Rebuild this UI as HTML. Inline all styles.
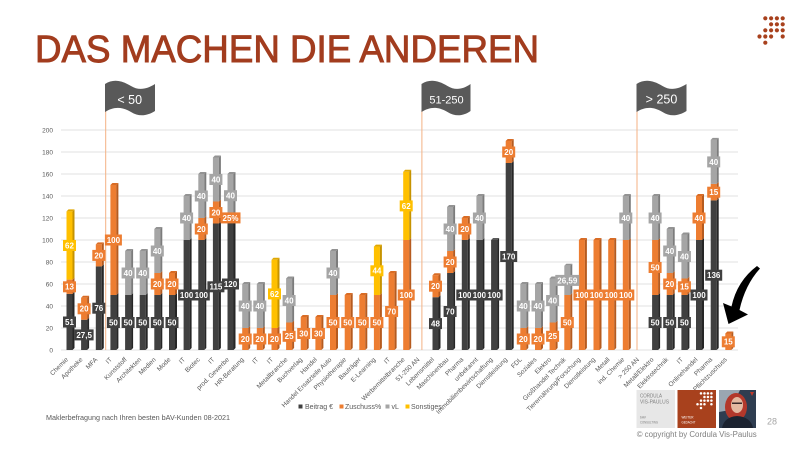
<!DOCTYPE html>
<html><head><meta charset="utf-8">
<style>
html,body{margin:0;padding:0;background:#fff;}
svg{display:block}
svg text{font-family:"Liberation Sans",sans-serif}
.bf{fill:#404040}.bs{fill:#262626}.bt{fill:#5a5a5a}
.zf{fill:#ED7D31}.zs{fill:#B65B1F}.zt{fill:#D96C25}
.vf{fill:#A5A5A5}.vs{fill:#7C7C7C}.vt{fill:#939393}
.sf{fill:#FFC000}.ss{fill:#C69300}.st{fill:#E0A800}
.L text{font-size:8px;font-weight:bold;fill:#fff;text-anchor:middle}
.lb{fill:#404040}.lz{fill:#ED7D31}.lv{fill:#A5A5A5}.ls{fill:#FFC000}
.xl text{font-size:6.5px;fill:#595959;text-anchor:end}
.yl text{font-size:6.5px;fill:#595959;text-anchor:end}
.dot circle{fill:#A8411D}
</style></head>
<body>
<svg width="800" height="450" viewBox="0 0 800 450" xmlns="http://www.w3.org/2000/svg">
<rect width="800" height="450" fill="#fff"/>

<!-- Title -->
<text x="35" y="62" font-size="38" fill="#A23C1E" stroke="#A23C1E" stroke-width="0.9" textLength="504" lengthAdjust="spacingAndGlyphs">DAS MACHEN DIE ANDEREN</text>

<!-- top-right logo -->
<g class="dot" id="logo">
<circle cx="765.3" cy="18.3" r="2.1"/><circle cx="771.1" cy="18.3" r="2.1"/><circle cx="776.9" cy="18.3" r="2.1"/><circle cx="782.7" cy="18.3" r="2.1"/>
<circle cx="771.1" cy="24.3" r="2.1"/><circle cx="776.9" cy="24.3" r="2.1"/><circle cx="782.7" cy="24.3" r="2.1"/>
<circle cx="765.3" cy="30.3" r="2.1"/><circle cx="771.1" cy="30.3" r="2.1"/><circle cx="776.9" cy="30.3" r="2.1"/><circle cx="782.7" cy="30.3" r="2.1"/>
<circle cx="759.5" cy="36.5" r="2.1"/><circle cx="765.3" cy="36.5" r="2.1"/><circle cx="771.1" cy="36.5" r="2.1"/><circle cx="782.7" cy="36.5" r="2.1"/>
<circle cx="765.3" cy="42.7" r="2.1"/>
</g>

<!-- gridlines -->
<g stroke="#D9D9D9" stroke-width="0.8">
<line x1="61" y1="350" x2="738" y2="350"/><line x1="61" y1="328" x2="738" y2="328"/><line x1="61" y1="306" x2="738" y2="306"/><line x1="61" y1="284" x2="738" y2="284"/><line x1="61" y1="262" x2="738" y2="262"/><line x1="61" y1="240" x2="738" y2="240"/><line x1="61" y1="218" x2="738" y2="218"/><line x1="61" y1="196" x2="738" y2="196"/><line x1="61" y1="174" x2="738" y2="174"/><line x1="61" y1="152" x2="738" y2="152"/><line x1="61" y1="130" x2="738" y2="130"/>
</g>
<g class="yl">
<text x="53" y="352.3">0</text><text x="53" y="330.3">20</text><text x="53" y="308.3">40</text><text x="53" y="286.3">60</text><text x="53" y="264.3">80</text><text x="53" y="242.3">100</text><text x="53" y="220.3">120</text><text x="53" y="198.3">140</text><text x="53" y="176.3">160</text><text x="53" y="154.3">180</text><text x="53" y="132.3">200</text>
</g>

<!-- divider lines -->
<g stroke="#F4B183" stroke-width="1">
<line x1="105.7" y1="110" x2="105.7" y2="350"/>
<line x1="421.9" y1="110" x2="421.9" y2="350"/>
<line x1="637" y1="110" x2="637" y2="350"/>
</g>
<!-- flags -->
<g fill="#595959">
<path transform="translate(105,81)" d="M0,3 C8,-2 16,-1 26,5 C34,10 42,8 50,3 L50,30 C42,35 34,36 26,31 C16,25 8,26 0,31 Z"/>
<path transform="translate(421.5,81)" d="M0,3 C8,-2 16,-1 26,5 C34,10 42,8 49,3 L49,30 C42,35 34,36 26,31 C16,25 8,26 0,31 Z"/>
<path transform="translate(636.5,81)" d="M0,3 C8,-2 16,-1 26,5 C34,10 42,8 50,3 L50,30 C42,35 34,36 26,31 C16,25 8,26 0,31 Z"/>
</g>
<g fill="#fff" text-anchor="middle">
<text x="129.7" y="104" font-size="12.5">&lt; 50</text>
<text x="446.5" y="103.3" font-size="11">51-250</text>
<text x="661.5" y="103.5" font-size="12.5">&gt; 250</text>
</g>

<!-- bars -->
<g transform="translate(70,0)">
<rect class="bf" x="-3.5" y="293.9" width="6" height="56.1"/><path class="bs" d="M2.5 350V293.9l2-2v56.1z"/>
<rect class="zf" x="-3.5" y="279.6" width="6" height="14.3"/><path class="zs" d="M2.5 293.9V279.6l2-2v14.3z"/>
<rect class="sf" x="-3.5" y="211.4" width="6" height="68.2"/><path class="ss" d="M2.5 279.6V211.4l2-2v68.2z"/>
<path class="st" d="M-3.5 211.4l2-2h6l-2 2z"/>
</g>
<g transform="translate(84.6,0)">
<rect class="bf" x="-3.5" y="319.75" width="6" height="30.25"/><path class="bs" d="M2.5 350V319.75l2-2v30.25z"/>
<rect class="zf" x="-3.5" y="297.75" width="6" height="22"/><path class="zs" d="M2.5 319.75V297.75l2-2v22z"/>
<path class="zt" d="M-3.5 297.75l2-2h6l-2 2z"/>
</g>
<g transform="translate(99.3,0)">
<rect class="bf" x="-3.5" y="266.4" width="6" height="83.6"/><path class="bs" d="M2.5 350V266.4l2-2v83.6z"/>
<rect class="zf" x="-3.5" y="244.4" width="6" height="22"/><path class="zs" d="M2.5 266.4V244.4l2-2v22z"/>
<path class="zt" d="M-3.5 244.4l2-2h6l-2 2z"/>
</g>
<g transform="translate(113.9,0)">
<rect class="bf" x="-3.5" y="295" width="6" height="55"/><path class="bs" d="M2.5 350V295l2-2v55z"/>
<rect class="zf" x="-3.5" y="185" width="6" height="110"/><path class="zs" d="M2.5 295V185l2-2v110z"/>
<path class="zt" d="M-3.5 185l2-2h6l-2 2z"/>
</g>
<g transform="translate(128.6,0)">
<rect class="bf" x="-3.5" y="295" width="6" height="55"/><path class="bs" d="M2.5 350V295l2-2v55z"/>
<rect class="vf" x="-3.5" y="251" width="6" height="44"/><path class="vs" d="M2.5 295V251l2-2v44z"/>
<path class="vt" d="M-3.5 251l2-2h6l-2 2z"/>
</g>
<g transform="translate(143.2,0)">
<rect class="bf" x="-3.5" y="295" width="6" height="55"/><path class="bs" d="M2.5 350V295l2-2v55z"/>
<rect class="vf" x="-3.5" y="251" width="6" height="44"/><path class="vs" d="M2.5 295V251l2-2v44z"/>
<path class="vt" d="M-3.5 251l2-2h6l-2 2z"/>
</g>
<g transform="translate(157.8,0)">
<rect class="bf" x="-3.5" y="295" width="6" height="55"/><path class="bs" d="M2.5 350V295l2-2v55z"/>
<rect class="zf" x="-3.5" y="273" width="6" height="22"/><path class="zs" d="M2.5 295V273l2-2v22z"/>
<rect class="vf" x="-3.5" y="229" width="6" height="44"/><path class="vs" d="M2.5 273V229l2-2v44z"/>
<path class="vt" d="M-3.5 229l2-2h6l-2 2z"/>
</g>
<g transform="translate(172.5,0)">
<rect class="bf" x="-3.5" y="295" width="6" height="55"/><path class="bs" d="M2.5 350V295l2-2v55z"/>
<rect class="zf" x="-3.5" y="273" width="6" height="22"/><path class="zs" d="M2.5 295V273l2-2v22z"/>
<path class="zt" d="M-3.5 273l2-2h6l-2 2z"/>
</g>
<g transform="translate(187.1,0)">
<rect class="bf" x="-3.5" y="240" width="6" height="110"/><path class="bs" d="M2.5 350V240l2-2v110z"/>
<rect class="vf" x="-3.5" y="196" width="6" height="44"/><path class="vs" d="M2.5 240V196l2-2v44z"/>
<path class="vt" d="M-3.5 196l2-2h6l-2 2z"/>
</g>
<g transform="translate(201.8,0)">
<rect class="bf" x="-3.5" y="240" width="6" height="110"/><path class="bs" d="M2.5 350V240l2-2v110z"/>
<rect class="zf" x="-3.5" y="218" width="6" height="22"/><path class="zs" d="M2.5 240V218l2-2v22z"/>
<rect class="vf" x="-3.5" y="174" width="6" height="44"/><path class="vs" d="M2.5 218V174l2-2v44z"/>
<path class="vt" d="M-3.5 174l2-2h6l-2 2z"/>
</g>
<g transform="translate(216.4,0)">
<rect class="bf" x="-3.5" y="223.5" width="6" height="126.5"/><path class="bs" d="M2.5 350V223.5l2-2v126.5z"/>
<rect class="zf" x="-3.5" y="201.5" width="6" height="22"/><path class="zs" d="M2.5 223.5V201.5l2-2v22z"/>
<rect class="vf" x="-3.5" y="157.5" width="6" height="44"/><path class="vs" d="M2.5 201.5V157.5l2-2v44z"/>
<path class="vt" d="M-3.5 157.5l2-2h6l-2 2z"/>
</g>
<g transform="translate(231,0)">
<rect class="bf" x="-3.5" y="218" width="6" height="132"/><path class="bs" d="M2.5 350V218l2-2v132z"/>
<rect class="vf" x="-3.5" y="174" width="6" height="44"/><path class="vs" d="M2.5 218V174l2-2v44z"/>
<path class="vt" d="M-3.5 174l2-2h6l-2 2z"/>
</g>
<g transform="translate(245.7,0)">
<rect class="zf" x="-3.5" y="328" width="6" height="22"/><path class="zs" d="M2.5 350V328l2-2v22z"/>
<rect class="vf" x="-3.5" y="284" width="6" height="44"/><path class="vs" d="M2.5 328V284l2-2v44z"/>
<path class="vt" d="M-3.5 284l2-2h6l-2 2z"/>
</g>
<g transform="translate(260.3,0)">
<rect class="zf" x="-3.5" y="328" width="6" height="22"/><path class="zs" d="M2.5 350V328l2-2v22z"/>
<rect class="vf" x="-3.5" y="284" width="6" height="44"/><path class="vs" d="M2.5 328V284l2-2v44z"/>
<path class="vt" d="M-3.5 284l2-2h6l-2 2z"/>
</g>
<g transform="translate(275,0)">
<rect class="zf" x="-3.5" y="328" width="6" height="22"/><path class="zs" d="M2.5 350V328l2-2v22z"/>
<rect class="sf" x="-3.5" y="259.8" width="6" height="68.2"/><path class="ss" d="M2.5 328V259.8l2-2v68.2z"/>
<path class="st" d="M-3.5 259.8l2-2h6l-2 2z"/>
</g>
<g transform="translate(289.6,0)">
<rect class="zf" x="-3.5" y="322.5" width="6" height="27.5"/><path class="zs" d="M2.5 350V322.5l2-2v27.5z"/>
<rect class="vf" x="-3.5" y="278.5" width="6" height="44"/><path class="vs" d="M2.5 322.5V278.5l2-2v44z"/>
<path class="vt" d="M-3.5 278.5l2-2h6l-2 2z"/>
</g>
<g transform="translate(304.2,0)">
<rect class="zf" x="-3.5" y="317" width="6" height="33"/><path class="zs" d="M2.5 350V317l2-2v33z"/>
<path class="zt" d="M-3.5 317l2-2h6l-2 2z"/>
</g>
<g transform="translate(318.9,0)">
<rect class="zf" x="-3.5" y="317" width="6" height="33"/><path class="zs" d="M2.5 350V317l2-2v33z"/>
<path class="zt" d="M-3.5 317l2-2h6l-2 2z"/>
</g>
<g transform="translate(333.5,0)">
<rect class="zf" x="-3.5" y="295" width="6" height="55"/><path class="zs" d="M2.5 350V295l2-2v55z"/>
<rect class="vf" x="-3.5" y="251" width="6" height="44"/><path class="vs" d="M2.5 295V251l2-2v44z"/>
<path class="vt" d="M-3.5 251l2-2h6l-2 2z"/>
</g>
<g transform="translate(348.2,0)">
<rect class="zf" x="-3.5" y="295" width="6" height="55"/><path class="zs" d="M2.5 350V295l2-2v55z"/>
<path class="zt" d="M-3.5 295l2-2h6l-2 2z"/>
</g>
<g transform="translate(362.8,0)">
<rect class="zf" x="-3.5" y="295" width="6" height="55"/><path class="zs" d="M2.5 350V295l2-2v55z"/>
<path class="zt" d="M-3.5 295l2-2h6l-2 2z"/>
</g>
<g transform="translate(377.4,0)">
<rect class="zf" x="-3.5" y="295" width="6" height="55"/><path class="zs" d="M2.5 350V295l2-2v55z"/>
<rect class="sf" x="-3.5" y="246.6" width="6" height="48.4"/><path class="ss" d="M2.5 295V246.6l2-2v48.4z"/>
<path class="st" d="M-3.5 246.6l2-2h6l-2 2z"/>
</g>
<g transform="translate(392.1,0)">
<rect class="zf" x="-3.5" y="273" width="6" height="77"/><path class="zs" d="M2.5 350V273l2-2v77z"/>
<path class="zt" d="M-3.5 273l2-2h6l-2 2z"/>
</g>
<g transform="translate(406.7,0)">
<rect class="zf" x="-3.5" y="240" width="6" height="110"/><path class="zs" d="M2.5 350V240l2-2v110z"/>
<rect class="sf" x="-3.5" y="171.8" width="6" height="68.2"/><path class="ss" d="M2.5 240V171.8l2-2v68.2z"/>
<path class="st" d="M-3.5 171.8l2-2h6l-2 2z"/>
</g>
<g transform="translate(436,0)">
<rect class="bf" x="-3.5" y="297.2" width="6" height="52.8"/><path class="bs" d="M2.5 350V297.2l2-2v52.8z"/>
<rect class="zf" x="-3.5" y="275.2" width="6" height="22"/><path class="zs" d="M2.5 297.2V275.2l2-2v22z"/>
<path class="zt" d="M-3.5 275.2l2-2h6l-2 2z"/>
</g>
<g transform="translate(450.6,0)">
<rect class="bf" x="-3.5" y="273" width="6" height="77"/><path class="bs" d="M2.5 350V273l2-2v77z"/>
<rect class="zf" x="-3.5" y="251" width="6" height="22"/><path class="zs" d="M2.5 273V251l2-2v22z"/>
<rect class="vf" x="-3.5" y="207" width="6" height="44"/><path class="vs" d="M2.5 251V207l2-2v44z"/>
<path class="vt" d="M-3.5 207l2-2h6l-2 2z"/>
</g>
<g transform="translate(465.3,0)">
<rect class="bf" x="-3.5" y="240" width="6" height="110"/><path class="bs" d="M2.5 350V240l2-2v110z"/>
<rect class="zf" x="-3.5" y="218" width="6" height="22"/><path class="zs" d="M2.5 240V218l2-2v22z"/>
<path class="zt" d="M-3.5 218l2-2h6l-2 2z"/>
</g>
<g transform="translate(479.9,0)">
<rect class="bf" x="-3.5" y="240" width="6" height="110"/><path class="bs" d="M2.5 350V240l2-2v110z"/>
<rect class="vf" x="-3.5" y="196" width="6" height="44"/><path class="vs" d="M2.5 240V196l2-2v44z"/>
<path class="vt" d="M-3.5 196l2-2h6l-2 2z"/>
</g>
<g transform="translate(494.6,0)">
<rect class="bf" x="-3.5" y="240" width="6" height="110"/><path class="bs" d="M2.5 350V240l2-2v110z"/>
<path class="bt" d="M-3.5 240l2-2h6l-2 2z"/>
</g>
<g transform="translate(509.2,0)">
<rect class="bf" x="-3.5" y="163" width="6" height="187"/><path class="bs" d="M2.5 350V163l2-2v187z"/>
<rect class="zf" x="-3.5" y="141" width="6" height="22"/><path class="zs" d="M2.5 163V141l2-2v22z"/>
<path class="zt" d="M-3.5 141l2-2h6l-2 2z"/>
</g>
<g transform="translate(523.8,0)">
<rect class="zf" x="-3.5" y="328" width="6" height="22"/><path class="zs" d="M2.5 350V328l2-2v22z"/>
<rect class="vf" x="-3.5" y="284" width="6" height="44"/><path class="vs" d="M2.5 328V284l2-2v44z"/>
<path class="vt" d="M-3.5 284l2-2h6l-2 2z"/>
</g>
<g transform="translate(538.5,0)">
<rect class="zf" x="-3.5" y="328" width="6" height="22"/><path class="zs" d="M2.5 350V328l2-2v22z"/>
<rect class="vf" x="-3.5" y="284" width="6" height="44"/><path class="vs" d="M2.5 328V284l2-2v44z"/>
<path class="vt" d="M-3.5 284l2-2h6l-2 2z"/>
</g>
<g transform="translate(553.1,0)">
<rect class="zf" x="-3.5" y="322.5" width="6" height="27.5"/><path class="zs" d="M2.5 350V322.5l2-2v27.5z"/>
<rect class="vf" x="-3.5" y="278.5" width="6" height="44"/><path class="vs" d="M2.5 322.5V278.5l2-2v44z"/>
<path class="vt" d="M-3.5 278.5l2-2h6l-2 2z"/>
</g>
<g transform="translate(567.8,0)">
<rect class="zf" x="-3.5" y="295" width="6" height="55"/><path class="zs" d="M2.5 350V295l2-2v55z"/>
<rect class="vf" x="-3.5" y="265.75" width="6" height="29.25"/><path class="vs" d="M2.5 295V265.75l2-2v29.25z"/>
<path class="vt" d="M-3.5 265.75l2-2h6l-2 2z"/>
</g>
<g transform="translate(582.4,0)">
<rect class="zf" x="-3.5" y="240" width="6" height="110"/><path class="zs" d="M2.5 350V240l2-2v110z"/>
<path class="zt" d="M-3.5 240l2-2h6l-2 2z"/>
</g>
<g transform="translate(597,0)">
<rect class="zf" x="-3.5" y="240" width="6" height="110"/><path class="zs" d="M2.5 350V240l2-2v110z"/>
<path class="zt" d="M-3.5 240l2-2h6l-2 2z"/>
</g>
<g transform="translate(611.7,0)">
<rect class="zf" x="-3.5" y="240" width="6" height="110"/><path class="zs" d="M2.5 350V240l2-2v110z"/>
<path class="zt" d="M-3.5 240l2-2h6l-2 2z"/>
</g>
<g transform="translate(626.3,0)">
<rect class="zf" x="-3.5" y="240" width="6" height="110"/><path class="zs" d="M2.5 350V240l2-2v110z"/>
<rect class="vf" x="-3.5" y="196" width="6" height="44"/><path class="vs" d="M2.5 240V196l2-2v44z"/>
<path class="vt" d="M-3.5 196l2-2h6l-2 2z"/>
</g>
<g transform="translate(655.6,0)">
<rect class="bf" x="-3.5" y="295" width="6" height="55"/><path class="bs" d="M2.5 350V295l2-2v55z"/>
<rect class="zf" x="-3.5" y="240" width="6" height="55"/><path class="zs" d="M2.5 295V240l2-2v55z"/>
<rect class="vf" x="-3.5" y="196" width="6" height="44"/><path class="vs" d="M2.5 240V196l2-2v44z"/>
<path class="vt" d="M-3.5 196l2-2h6l-2 2z"/>
</g>
<g transform="translate(670.2,0)">
<rect class="bf" x="-3.5" y="295" width="6" height="55"/><path class="bs" d="M2.5 350V295l2-2v55z"/>
<rect class="zf" x="-3.5" y="273" width="6" height="22"/><path class="zs" d="M2.5 295V273l2-2v22z"/>
<rect class="vf" x="-3.5" y="229" width="6" height="44"/><path class="vs" d="M2.5 273V229l2-2v44z"/>
<path class="vt" d="M-3.5 229l2-2h6l-2 2z"/>
</g>
<g transform="translate(684.9,0)">
<rect class="bf" x="-3.5" y="295" width="6" height="55"/><path class="bs" d="M2.5 350V295l2-2v55z"/>
<rect class="zf" x="-3.5" y="278.5" width="6" height="16.5"/><path class="zs" d="M2.5 295V278.5l2-2v16.5z"/>
<rect class="vf" x="-3.5" y="234.5" width="6" height="44"/><path class="vs" d="M2.5 278.5V234.5l2-2v44z"/>
<path class="vt" d="M-3.5 234.5l2-2h6l-2 2z"/>
</g>
<g transform="translate(699.5,0)">
<rect class="bf" x="-3.5" y="240" width="6" height="110"/><path class="bs" d="M2.5 350V240l2-2v110z"/>
<rect class="zf" x="-3.5" y="196" width="6" height="44"/><path class="zs" d="M2.5 240V196l2-2v44z"/>
<path class="zt" d="M-3.5 196l2-2h6l-2 2z"/>
</g>
<g transform="translate(714.2,0)">
<rect class="bf" x="-3.5" y="200.4" width="6" height="149.6"/><path class="bs" d="M2.5 350V200.4l2-2v149.6z"/>
<rect class="zf" x="-3.5" y="183.9" width="6" height="16.5"/><path class="zs" d="M2.5 200.4V183.9l2-2v16.5z"/>
<rect class="vf" x="-3.5" y="139.9" width="6" height="44"/><path class="vs" d="M2.5 183.9V139.9l2-2v44z"/>
<path class="vt" d="M-3.5 139.9l2-2h6l-2 2z"/>
</g>
<g transform="translate(728.8,0)">
<rect class="zf" x="-3.5" y="333.5" width="6" height="16.5"/><path class="zs" d="M2.5 350V333.5l2-2v16.5z"/>
<path class="zt" d="M-3.5 333.5l2-2h6l-2 2z"/>
</g>

<!-- data labels -->
<g class="L">
<g transform="translate(69.5,322)"><rect class="lb" x="-6.5" y="-5.5" width="13" height="11"/><text y="2.9">51</text></g>
<g transform="translate(69.5,286.8)"><rect class="lz" x="-6.5" y="-5.5" width="13" height="11"/><text y="2.9">13</text></g>
<g transform="translate(69.5,245.5)"><rect class="ls" x="-6.5" y="-5.5" width="13" height="11"/><text y="2.9">62</text></g>
<g transform="translate(84.1,334.9)"><rect class="lb" x="-9.5" y="-5.5" width="19" height="11"/><text y="2.9">27,5</text></g>
<g transform="translate(84.1,308.8)"><rect class="lz" x="-6.5" y="-5.5" width="13" height="11"/><text y="2.9">20</text></g>
<g transform="translate(98.8,308.2)"><rect class="lb" x="-6.5" y="-5.5" width="13" height="11"/><text y="2.9">76</text></g>
<g transform="translate(98.8,255.4)"><rect class="lz" x="-6.5" y="-5.5" width="13" height="11"/><text y="2.9">20</text></g>
<g transform="translate(113.4,322.5)"><rect class="lb" x="-6.5" y="-5.5" width="13" height="11"/><text y="2.9">50</text></g>
<g transform="translate(113.4,240)"><rect class="lz" x="-8.5" y="-5.5" width="17" height="11"/><text y="2.9">100</text></g>
<g transform="translate(128.1,322.5)"><rect class="lb" x="-6.5" y="-5.5" width="13" height="11"/><text y="2.9">50</text></g>
<g transform="translate(128.1,273)"><rect class="lv" x="-6.5" y="-5.5" width="13" height="11"/><text y="2.9">40</text></g>
<g transform="translate(142.7,322.5)"><rect class="lb" x="-6.5" y="-5.5" width="13" height="11"/><text y="2.9">50</text></g>
<g transform="translate(142.7,273)"><rect class="lv" x="-6.5" y="-5.5" width="13" height="11"/><text y="2.9">40</text></g>
<g transform="translate(157.3,322.5)"><rect class="lb" x="-6.5" y="-5.5" width="13" height="11"/><text y="2.9">50</text></g>
<g transform="translate(157.3,284)"><rect class="lz" x="-6.5" y="-5.5" width="13" height="11"/><text y="2.9">20</text></g>
<g transform="translate(157.3,251)"><rect class="lv" x="-6.5" y="-5.5" width="13" height="11"/><text y="2.9">40</text></g>
<g transform="translate(172,322.5)"><rect class="lb" x="-6.5" y="-5.5" width="13" height="11"/><text y="2.9">50</text></g>
<g transform="translate(172,284)"><rect class="lz" x="-6.5" y="-5.5" width="13" height="11"/><text y="2.9">20</text></g>
<g transform="translate(186.6,295)"><rect class="lb" x="-8.5" y="-5.5" width="17" height="11"/><text y="2.9">100</text></g>
<g transform="translate(186.6,218)"><rect class="lv" x="-6.5" y="-5.5" width="13" height="11"/><text y="2.9">40</text></g>
<g transform="translate(201.3,295)"><rect class="lb" x="-8.5" y="-5.5" width="17" height="11"/><text y="2.9">100</text></g>
<g transform="translate(201.3,229)"><rect class="lz" x="-6.5" y="-5.5" width="13" height="11"/><text y="2.9">20</text></g>
<g transform="translate(201.3,196)"><rect class="lv" x="-6.5" y="-5.5" width="13" height="11"/><text y="2.9">40</text></g>
<g transform="translate(215.9,286.8)"><rect class="lb" x="-8.5" y="-5.5" width="17" height="11"/><text y="2.9">115</text></g>
<g transform="translate(215.9,212.5)"><rect class="lz" x="-6.5" y="-5.5" width="13" height="11"/><text y="2.9">20</text></g>
<g transform="translate(215.9,179.5)"><rect class="lv" x="-6.5" y="-5.5" width="13" height="11"/><text y="2.9">40</text></g>
<g transform="translate(230.5,284)"><rect class="lb" x="-8.5" y="-5.5" width="17" height="11"/><text y="2.9">120</text></g>
<g transform="translate(230.5,217.9)"><rect class="lz" x="-10" y="-5.5" width="20" height="11"/><text y="2.9">25%</text></g>
<g transform="translate(230.5,195.7)"><rect class="lv" x="-6.5" y="-5.5" width="13" height="11"/><text y="2.9">40</text></g>
<g transform="translate(245.2,339)"><rect class="lz" x="-6.5" y="-5.5" width="13" height="11"/><text y="2.9">20</text></g>
<g transform="translate(245.2,306)"><rect class="lv" x="-6.5" y="-5.5" width="13" height="11"/><text y="2.9">40</text></g>
<g transform="translate(259.8,339)"><rect class="lz" x="-6.5" y="-5.5" width="13" height="11"/><text y="2.9">20</text></g>
<g transform="translate(259.8,306)"><rect class="lv" x="-6.5" y="-5.5" width="13" height="11"/><text y="2.9">40</text></g>
<g transform="translate(274.5,339)"><rect class="lz" x="-6.5" y="-5.5" width="13" height="11"/><text y="2.9">20</text></g>
<g transform="translate(274.5,293.9)"><rect class="ls" x="-6.5" y="-5.5" width="13" height="11"/><text y="2.9">62</text></g>
<g transform="translate(289.1,336.3)"><rect class="lz" x="-6.5" y="-5.5" width="13" height="11"/><text y="2.9">25</text></g>
<g transform="translate(289.1,300.5)"><rect class="lv" x="-6.5" y="-5.5" width="13" height="11"/><text y="2.9">40</text></g>
<g transform="translate(303.7,333.5)"><rect class="lz" x="-6.5" y="-5.5" width="13" height="11"/><text y="2.9">30</text></g>
<g transform="translate(318.4,333.5)"><rect class="lz" x="-6.5" y="-5.5" width="13" height="11"/><text y="2.9">30</text></g>
<g transform="translate(333,322.5)"><rect class="lz" x="-6.5" y="-5.5" width="13" height="11"/><text y="2.9">50</text></g>
<g transform="translate(333,273)"><rect class="lv" x="-6.5" y="-5.5" width="13" height="11"/><text y="2.9">40</text></g>
<g transform="translate(347.7,322.5)"><rect class="lz" x="-6.5" y="-5.5" width="13" height="11"/><text y="2.9">50</text></g>
<g transform="translate(362.3,322.5)"><rect class="lz" x="-6.5" y="-5.5" width="13" height="11"/><text y="2.9">50</text></g>
<g transform="translate(376.9,322.5)"><rect class="lz" x="-6.5" y="-5.5" width="13" height="11"/><text y="2.9">50</text></g>
<g transform="translate(376.9,270.8)"><rect class="ls" x="-6.5" y="-5.5" width="13" height="11"/><text y="2.9">44</text></g>
<g transform="translate(391.6,311.5)"><rect class="lz" x="-6.5" y="-5.5" width="13" height="11"/><text y="2.9">70</text></g>
<g transform="translate(406.2,295)"><rect class="lz" x="-8.5" y="-5.5" width="17" height="11"/><text y="2.9">100</text></g>
<g transform="translate(406.2,205.9)"><rect class="ls" x="-6.5" y="-5.5" width="13" height="11"/><text y="2.9">62</text></g>
<g transform="translate(435.5,323.6)"><rect class="lb" x="-6.5" y="-5.5" width="13" height="11"/><text y="2.9">48</text></g>
<g transform="translate(435.5,286.2)"><rect class="lz" x="-6.5" y="-5.5" width="13" height="11"/><text y="2.9">20</text></g>
<g transform="translate(450.1,311.5)"><rect class="lb" x="-6.5" y="-5.5" width="13" height="11"/><text y="2.9">70</text></g>
<g transform="translate(450.1,262)"><rect class="lz" x="-6.5" y="-5.5" width="13" height="11"/><text y="2.9">20</text></g>
<g transform="translate(450.1,229)"><rect class="lv" x="-6.5" y="-5.5" width="13" height="11"/><text y="2.9">40</text></g>
<g transform="translate(464.8,295)"><rect class="lb" x="-8.5" y="-5.5" width="17" height="11"/><text y="2.9">100</text></g>
<g transform="translate(464.8,229)"><rect class="lz" x="-6.5" y="-5.5" width="13" height="11"/><text y="2.9">20</text></g>
<g transform="translate(479.4,295)"><rect class="lb" x="-8.5" y="-5.5" width="17" height="11"/><text y="2.9">100</text></g>
<g transform="translate(479.4,218)"><rect class="lv" x="-6.5" y="-5.5" width="13" height="11"/><text y="2.9">40</text></g>
<g transform="translate(494.1,295)"><rect class="lb" x="-8.5" y="-5.5" width="17" height="11"/><text y="2.9">100</text></g>
<g transform="translate(508.7,256.5)"><rect class="lb" x="-8.5" y="-5.5" width="17" height="11"/><text y="2.9">170</text></g>
<g transform="translate(508.7,152)"><rect class="lz" x="-6.5" y="-5.5" width="13" height="11"/><text y="2.9">20</text></g>
<g transform="translate(523.3,339)"><rect class="lz" x="-6.5" y="-5.5" width="13" height="11"/><text y="2.9">20</text></g>
<g transform="translate(523.3,306)"><rect class="lv" x="-6.5" y="-5.5" width="13" height="11"/><text y="2.9">40</text></g>
<g transform="translate(538,339)"><rect class="lz" x="-6.5" y="-5.5" width="13" height="11"/><text y="2.9">20</text></g>
<g transform="translate(538,306)"><rect class="lv" x="-6.5" y="-5.5" width="13" height="11"/><text y="2.9">40</text></g>
<g transform="translate(552.6,336.3)"><rect class="lz" x="-6.5" y="-5.5" width="13" height="11"/><text y="2.9">25</text></g>
<g transform="translate(552.6,300.5)"><rect class="lv" x="-6.5" y="-5.5" width="13" height="11"/><text y="2.9">40</text></g>
<g transform="translate(567.3,322.5)"><rect class="lz" x="-6.5" y="-5.5" width="13" height="11"/><text y="2.9">50</text></g>
<g transform="translate(567.3,280.4)"><rect class="lv" x="-12" y="-5.5" width="24" height="11"/><text y="2.9">26,59</text></g>
<g transform="translate(581.9,295)"><rect class="lz" x="-8.5" y="-5.5" width="17" height="11"/><text y="2.9">100</text></g>
<g transform="translate(596.5,295)"><rect class="lz" x="-8.5" y="-5.5" width="17" height="11"/><text y="2.9">100</text></g>
<g transform="translate(611.2,295)"><rect class="lz" x="-8.5" y="-5.5" width="17" height="11"/><text y="2.9">100</text></g>
<g transform="translate(625.8,295)"><rect class="lz" x="-8.5" y="-5.5" width="17" height="11"/><text y="2.9">100</text></g>
<g transform="translate(625.8,218)"><rect class="lv" x="-6.5" y="-5.5" width="13" height="11"/><text y="2.9">40</text></g>
<g transform="translate(655.1,322.5)"><rect class="lb" x="-6.5" y="-5.5" width="13" height="11"/><text y="2.9">50</text></g>
<g transform="translate(655.1,267.5)"><rect class="lz" x="-6.5" y="-5.5" width="13" height="11"/><text y="2.9">50</text></g>
<g transform="translate(655.1,218)"><rect class="lv" x="-6.5" y="-5.5" width="13" height="11"/><text y="2.9">40</text></g>
<g transform="translate(669.7,322.5)"><rect class="lb" x="-6.5" y="-5.5" width="13" height="11"/><text y="2.9">50</text></g>
<g transform="translate(669.7,284)"><rect class="lz" x="-6.5" y="-5.5" width="13" height="11"/><text y="2.9">20</text></g>
<g transform="translate(669.7,251)"><rect class="lv" x="-6.5" y="-5.5" width="13" height="11"/><text y="2.9">40</text></g>
<g transform="translate(684.4,322.5)"><rect class="lb" x="-6.5" y="-5.5" width="13" height="11"/><text y="2.9">50</text></g>
<g transform="translate(684.4,286.8)"><rect class="lz" x="-6.5" y="-5.5" width="13" height="11"/><text y="2.9">15</text></g>
<g transform="translate(684.4,256.5)"><rect class="lv" x="-6.5" y="-5.5" width="13" height="11"/><text y="2.9">40</text></g>
<g transform="translate(699,295)"><rect class="lb" x="-8.5" y="-5.5" width="17" height="11"/><text y="2.9">100</text></g>
<g transform="translate(699,218)"><rect class="lz" x="-6.5" y="-5.5" width="13" height="11"/><text y="2.9">40</text></g>
<g transform="translate(713.7,275.2)"><rect class="lb" x="-8.5" y="-5.5" width="17" height="11"/><text y="2.9">136</text></g>
<g transform="translate(713.7,192.2)"><rect class="lz" x="-6.5" y="-5.5" width="13" height="11"/><text y="2.9">15</text></g>
<g transform="translate(713.7,161.9)"><rect class="lv" x="-6.5" y="-5.5" width="13" height="11"/><text y="2.9">40</text></g>
<g transform="translate(728.3,341.8)"><rect class="lz" x="-6.5" y="-5.5" width="13" height="11"/><text y="2.9">15</text></g>
</g>

<!-- arrow -->
<path d="M757,266 Q737,281 731.5,306.5 L723,303 L728.5,324 L748,314.5 L739.5,310 Q745,285 760,268.5 Z" fill="#000"/>

<!-- x-axis labels -->
<g class="xl">
<text transform="translate(68.5,360) rotate(-45)">Chemie</text>
<text transform="translate(83.1,360) rotate(-45)">Apotheke</text>
<text transform="translate(97.8,360) rotate(-45)">MFA</text>
<text transform="translate(112.4,360) rotate(-45)">IT</text>
<text transform="translate(127.1,360) rotate(-45)">Kunststoff</text>
<text transform="translate(141.7,360) rotate(-45)">Architekten</text>
<text transform="translate(156.3,360) rotate(-45)">Medien</text>
<text transform="translate(171,360) rotate(-45)">Mode</text>
<text transform="translate(185.6,360) rotate(-45)">IT</text>
<text transform="translate(200.3,360) rotate(-45)">Biotec</text>
<text transform="translate(214.9,360) rotate(-45)">IT</text>
<text transform="translate(229.5,360) rotate(-45)">prod. Gewerbe</text>
<text transform="translate(244.2,360) rotate(-45)">HR-Beratung</text>
<text transform="translate(258.8,360) rotate(-45)">IT</text>
<text transform="translate(273.5,360) rotate(-45)">IT</text>
<text transform="translate(288.1,360) rotate(-45)">Metallbranche</text>
<text transform="translate(302.7,360) rotate(-45)">Buchverlag</text>
<text transform="translate(317.4,360) rotate(-45)">Handel</text>
<text transform="translate(332,360) rotate(-45)">Handel Ersatzteile Auto</text>
<text transform="translate(346.7,360) rotate(-45)">Physiotherapie</text>
<text transform="translate(361.3,360) rotate(-45)">Bauträger</text>
<text transform="translate(375.9,360) rotate(-45)">E-Learning</text>
<text transform="translate(390.6,360) rotate(-45)">IT</text>
<text transform="translate(405.2,360) rotate(-45)">Werbemittelbranche</text>
<text transform="translate(419.9,360) rotate(-45)">51-250 AN</text>
<text transform="translate(434.5,360) rotate(-45)">Lebensmittel</text>
<text transform="translate(449.1,360) rotate(-45)">Maschinenbau</text>
<text transform="translate(463.8,360) rotate(-45)">Pharma</text>
<text transform="translate(478.4,360) rotate(-45)">unbekannt</text>
<text transform="translate(493.1,360) rotate(-45)">Immobilienbewirtschaftung</text>
<text transform="translate(507.7,360) rotate(-45)">Dienstleistung</text>
<text transform="translate(522.3,360) rotate(-45)">FDL</text>
<text transform="translate(537,360) rotate(-45)">Soziales</text>
<text transform="translate(551.6,360) rotate(-45)">Elektro</text>
<text transform="translate(566.3,360) rotate(-45)">Großhandel Technik</text>
<text transform="translate(580.9,360) rotate(-45)">Tierernährung/Forschung</text>
<text transform="translate(595.5,360) rotate(-45)">Dienstleistung</text>
<text transform="translate(610.2,360) rotate(-45)">Metall</text>
<text transform="translate(624.8,360) rotate(-45)">ind. Chemie</text>
<text transform="translate(639.5,360) rotate(-45)">&gt; 250 AN</text>
<text transform="translate(654.1,360) rotate(-45)">Metall/Elektro</text>
<text transform="translate(668.7,360) rotate(-45)">Elektrotechnik</text>
<text transform="translate(683.4,360) rotate(-45)">IT</text>
<text transform="translate(698,360) rotate(-45)">Onlinehandel</text>
<text transform="translate(712.7,360) rotate(-45)">Pharma</text>
<text transform="translate(727.3,360) rotate(-45)">Pflichtzuschuss</text>
</g>

<!-- legend -->
<g font-size="7" fill="#595959">
<rect x="298.5" y="404.5" width="4" height="4" fill="#404040"/><text x="305" y="409.2">Beitrag €</text>
<rect x="339.5" y="404.5" width="4" height="4" fill="#ED7D31"/><text x="345" y="409.2">Zuschuss%</text>
<rect x="385.5" y="404.5" width="4" height="4" fill="#A5A5A5"/><text x="391.5" y="409.2">vL</text>
<rect x="405.5" y="404.5" width="4" height="4" fill="#FFC000"/><text x="411" y="409.2">Sonstiges</text>
</g>

<!-- footer -->
<text x="46" y="420" font-size="7.5" fill="#595959" textLength="184" lengthAdjust="spacingAndGlyphs">Maklerbefragung nach Ihren besten bAV-Kunden 08-2021</text>

<!-- logos bottom right -->
<rect x="636.5" y="390" width="38.5" height="38" fill="#E7E7E7"/>
<g fill="#7F7F7F">
<text x="640" y="397.5" font-size="5" textLength="22" lengthAdjust="spacingAndGlyphs">CORDULA</text>
<text x="640" y="403.5" font-size="5" textLength="29" lengthAdjust="spacingAndGlyphs">VIS-PAULUS</text>
<text x="640" y="418.5" font-size="3.3">bAV</text>
<text x="640" y="423.3" font-size="3.3" textLength="18" lengthAdjust="spacingAndGlyphs">CONSULTING</text>
</g>
<rect x="677.5" y="390" width="38.5" height="38" fill="#A8411D"/>
<g transform="translate(696,392) scale(0.6) translate(-757,-16)">
<g fill="#fff">
<circle cx="765.3" cy="18.3" r="2.1"/><circle cx="771.1" cy="18.3" r="2.1"/><circle cx="776.9" cy="18.3" r="2.1"/><circle cx="782.7" cy="18.3" r="2.1"/>
<circle cx="771.1" cy="24.3" r="2.1"/><circle cx="776.9" cy="24.3" r="2.1"/><circle cx="782.7" cy="24.3" r="2.1"/>
<circle cx="765.3" cy="30.3" r="2.1"/><circle cx="771.1" cy="30.3" r="2.1"/><circle cx="776.9" cy="30.3" r="2.1"/><circle cx="782.7" cy="30.3" r="2.1"/>
<circle cx="759.5" cy="36.5" r="2.1"/><circle cx="765.3" cy="36.5" r="2.1"/><circle cx="771.1" cy="36.5" r="2.1"/><circle cx="782.7" cy="36.5" r="2.1"/>
<circle cx="765.3" cy="42.7" r="2.1"/>
</g></g>
<g fill="#fff">
<text x="681.5" y="418.5" font-size="3.5" textLength="12" lengthAdjust="spacingAndGlyphs">WEITER</text>
<text x="681.5" y="423.3" font-size="3.5" textLength="14" lengthAdjust="spacingAndGlyphs">GEDACHT</text>
</g>
<!-- photo -->
<rect x="719" y="390" width="37" height="38" fill="#2f3d50"/>
<path d="M719,390 H740 L730,410 L719,412 Z" fill="#9aa6b1"/>
<ellipse cx="736" cy="407" rx="11" ry="14" fill="#b3382b"/>
<ellipse cx="737" cy="405" rx="6" ry="8" fill="#e4b9a1"/>
<rect x="732" y="402.5" width="10" height="1.5" fill="#3a2a2a"/>
<path d="M722,428 Q724,417 737,416 Q751,417 753,428 Z" fill="#1c2330"/>
<path d="M750,392 h4 l-2,4 z" fill="#c0392b"/>

<text x="767" y="424.5" font-size="9" fill="#A6A6A6">28</text>
<text x="636.7" y="437" font-size="8" fill="#7F7F7F" textLength="120" lengthAdjust="spacingAndGlyphs">© copyright by Cordula Vis-Paulus</text>
</svg>
</body></html>
